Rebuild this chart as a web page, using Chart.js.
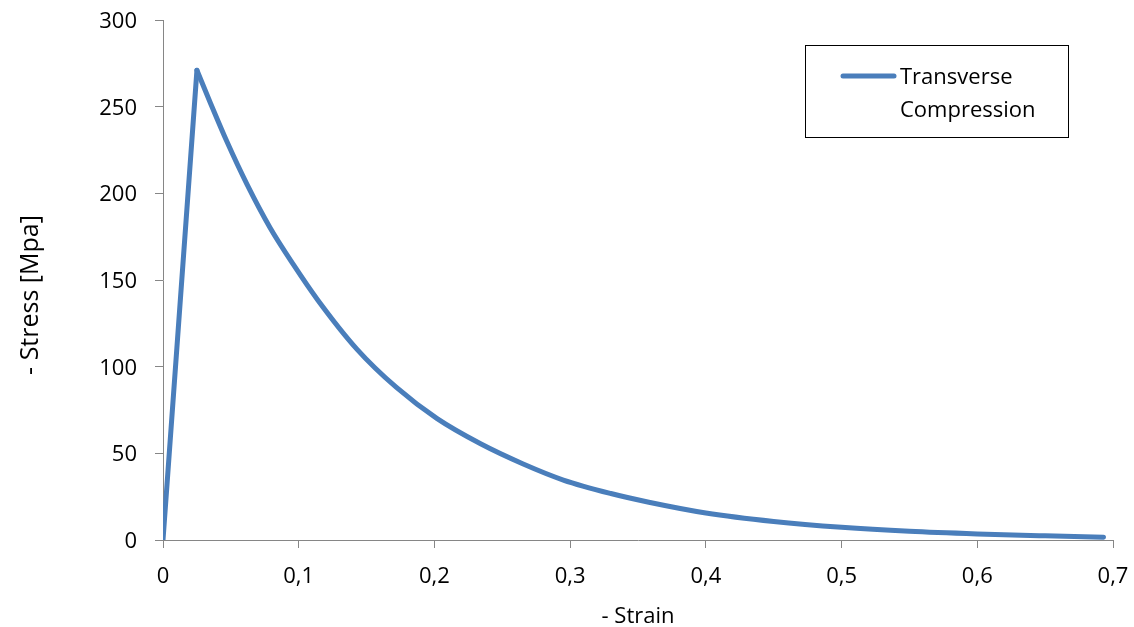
<!DOCTYPE html>
<html>
<head>
<meta charset="utf-8">
<title>Transverse Compression</title>
<script src="https://cdn.jsdelivr.net/npm/chart.js@4.4.1/dist/chart.umd.min.js"></script>
<style>
  html, body { margin: 0; padding: 0; background: #fff; }
  #wrap { width: 1134px; height: 627px; }
</style>
</head>
<body>
<div id="wrap"><canvas id="stressChart" width="1134" height="627"></canvas></div>
<script>
// strain / stress pairs (negated, compression positive)
var strain = [0, 0.025, 0.035, 0.047, 0.062, 0.079, 0.096, 0.114, 0.143, 0.172, 0.202, 0.234, 0.265, 0.295, 0.33, 0.358, 0.4, 0.45, 0.5, 0.55, 0.6, 0.65, 0.693];
var stress = [0, 271, 252, 230, 205, 180, 159, 138.5, 110, 88, 70, 55.5, 44, 34.6, 26.8, 21.8, 15.6, 10.7, 7.3, 5.0, 3.5, 2.4, 1.6];

var seriesName = ['Transverse', 'Compression'];
var xTitle = '- Strain';
var yTitle = '- Stress [Mpa]';

var blue = '#4a7ebb';
var axisGrey = '#868686';
var font = '"Open Sans", Lato, sans-serif';

// split into the linear loading part and the softening curve at the peak
var peak = stress.indexOf(Math.max.apply(null, stress));
var loading = [];
var softening = [];
for (var i = 0; i < strain.length; i++) {
  var p = { x: strain[i], y: stress[i] };
  if (i <= peak) loading.push(p);
  if (i >= peak) softening.push(p);
}

function fmt(v) {
  if (v === 0) return '0';
  return v.toFixed(1).replace('.', ',');
}

// tick labels, axis titles and the boxed legend
var decorations = {
  id: 'decorations',
  afterDraw: function(chart) {
    var ctx = chart.ctx;
    var area = chart.chartArea;
    var xs = chart.scales.x;
    var ys = chart.scales.y;
    ctx.save();
    ctx.fillStyle = '#000';
    ctx.font = '22px ' + font;
    ctx.textBaseline = 'alphabetic';

    ctx.textAlign = 'right';
    ys.ticks.forEach(function(t) {
      ctx.fillText(String(t.value), area.left - 26, ys.getPixelForValue(t.value) + 8);
    });
    ctx.textAlign = 'center';
    xs.ticks.forEach(function(t) {
      ctx.fillText(fmt(t.value), xs.getPixelForValue(t.value), area.bottom + 43);
    });

    ctx.fillText(xTitle, (area.left + area.right) / 2, 623);

    ctx.save();
    ctx.font = '25px ' + font;
    ctx.translate(38, 295);
    ctx.rotate(-Math.PI / 2);
    ctx.fillText(yTitle, 0, 0);
    ctx.restore();

    // legend
    ctx.strokeStyle = '#000';
    ctx.lineWidth = 1;
    ctx.strokeRect(805.5, 45.5, 263, 92);
    ctx.strokeStyle = blue;
    ctx.lineWidth = 5;
    ctx.lineCap = 'round';
    ctx.beginPath();
    ctx.moveTo(843, 76);
    ctx.lineTo(894, 76);
    ctx.stroke();
    ctx.textAlign = 'left';
    ctx.fillText(seriesName[0], 900, 84);
    ctx.fillText(seriesName[1], 900, 117);
    ctx.restore();
  }
};

var lineStyle = {
  borderColor: blue,
  backgroundColor: blue,
  borderWidth: 5,
  borderCapStyle: 'round',
  borderJoinStyle: 'round',
  pointRadius: 0,
  fill: false
};

new Chart(document.getElementById('stressChart'), {
  type: 'scatter',
  data: {
    datasets: [
      Object.assign({ label: seriesName.join(' '), data: softening, showLine: true, cubicInterpolationMode: 'monotone' }, lineStyle),
      Object.assign({ label: 'loading', data: loading, showLine: true, tension: 0 }, lineStyle)
    ]
  },
  options: {
    responsive: false,
    animation: false,
    layout: { padding: { top: 20, right: 21, left: 0, bottom: 0 } },
    plugins: {
      legend: { display: false },
      tooltip: { enabled: false }
    },
    scales: {
      x: {
        type: 'linear',
        min: 0,
        max: 0.7,
        afterFit: function(scale) { scale.height = 87; },
        border: { color: axisGrey, width: 1 },
        grid: { drawOnChartArea: false, drawTicks: true, tickLength: 8, color: axisGrey },
        ticks: { stepSize: 0.1, display: false }
      },
      y: {
        min: 0,
        max: 300,
        afterFit: function(scale) { scale.width = 163; },
        border: { color: axisGrey, width: 1 },
        grid: { drawOnChartArea: false, drawTicks: true, tickLength: 8, color: axisGrey },
        ticks: { stepSize: 50, display: false }
      }
    }
  },
  plugins: [decorations]
});
</script>
</body>
</html>
